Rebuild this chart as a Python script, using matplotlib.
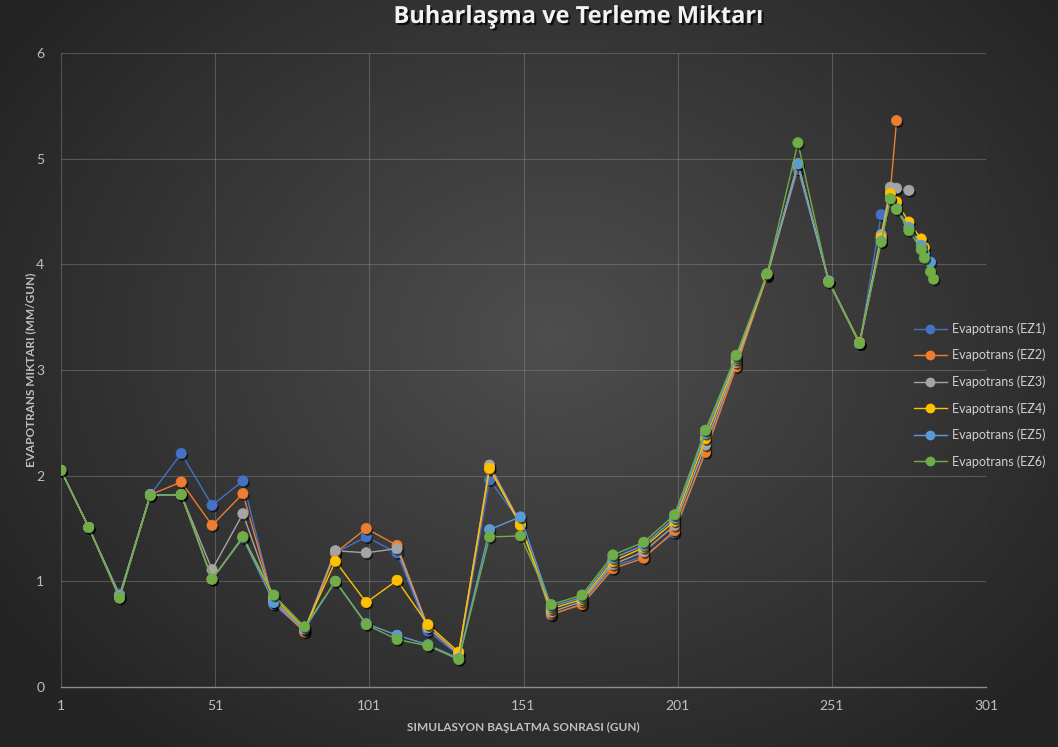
import numpy as np
import matplotlib
matplotlib.use("Agg")
import matplotlib.pyplot as plt
import matplotlib.patheffects as pe
from matplotlib.lines import Line2D

nan = np.nan

# Simulation day of each sample
days = [1, 10, 20, 30, 40, 50, 60, 70, 80, 90, 100, 110, 120, 130, 140, 150,
        160, 170, 180, 190, 200, 210, 220, 230, 240, 250, 260,
        267, 270, 272, 276, 280, 281, 283, 284]

# Evapotranspiration (mm/day) per zone
ez1 = [2.05, 1.51, 0.88, 1.82, 2.21, 1.72, 1.95, 0.78, 0.53, 1.27, 1.42, 1.27,
       0.53, 0.30, 1.96, 1.56, 0.68, 0.79, 1.14, 1.24, 1.46, 2.24, 3.05, 3.90,
       4.90, 3.84, 3.25, 4.47, nan, nan, nan, nan, nan, nan, nan]
ez2 = [2.05, 1.51, 0.86, 1.82, 1.94, 1.53, 1.83, 0.80, 0.52, 1.27, 1.50, 1.34,
       0.57, 0.31, 2.06, 1.55, 0.69, 0.78, 1.12, 1.22, 1.48, 2.22, 3.03, 3.89,
       4.93, 3.84, 3.25, 4.25, 4.70, 5.36, nan, nan, nan, nan, nan]
ez3 = [2.05, 1.51, 0.86, 1.82, 1.82, 1.11, 1.64, 0.82, 0.54, 1.29, 1.27, 1.31,
       0.56, 0.31, 2.10, 1.55, 0.71, 0.81, 1.16, 1.28, 1.53, 2.29, 3.07, 3.90,
       4.95, 3.84, 3.25, 4.28, 4.73, 4.72, 4.70, nan, nan, nan, nan]
ez4 = [2.05, 1.51, 0.85, 1.82, 1.82, 1.02, 1.42, 0.85, 0.55, 1.19, 0.80, 1.01,
       0.59, 0.33, 2.07, 1.53, 0.74, 0.83, 1.19, 1.32, 1.57, 2.35, 3.10, 3.90,
       4.95, 3.84, 3.26, 4.25, 4.67, 4.59, 4.40, 4.24, 4.16, nan, nan]
ez5 = [2.05, 1.51, 0.85, 1.82, 1.82, 1.02, 1.41, 0.80, 0.55, 1.00, 0.60, 0.49,
       0.40, 0.27, 1.49, 1.61, 0.76, 0.85, 1.22, 1.34, 1.60, 2.40, 3.12, 3.91,
       4.95, 3.84, 3.25, 4.22, 4.62, 4.53, 4.35, 4.18, 4.10, 4.02, nan]
ez6 = [2.05, 1.51, 0.84, 1.81, 1.82, 1.02, 1.42, 0.87, 0.57, 1.00, 0.59, 0.45,
       0.39, 0.26, 1.42, 1.43, 0.78, 0.87, 1.25, 1.37, 1.63, 2.43, 3.14, 3.91,
       5.15, 3.83, 3.25, 4.21, 4.62, 4.52, 4.32, 4.14, 4.06, 3.93, 3.86]

series_names = ["Evapotrans (EZ1)", "Evapotrans (EZ2)", "Evapotrans (EZ3)",
                "Evapotrans (EZ4)", "Evapotrans (EZ5)", "Evapotrans (EZ6)"]
series_values = [ez1, ez2, ez3, ez4, ez5, ez6]
colors = ["#4472C4", "#ED7D31", "#A5A5A5", "#FFC000", "#5B9BD5", "#70AD47"]

x_ticks = [1, 51, 101, 151, 201, 251, 301]
y_ticks = [0, 1, 2, 3, 4, 5, 6]

title = "Buharlaşma ve Terleme Miktarı"
x_title = "SIMULASYON BAŞLATMA SONRASI (GUN)"
y_title = "EVAPOTRANS MIKTARI (MM/GUN)"

W, H = 1058, 747
fig = plt.figure(figsize=(W / 100, H / 100), dpi=100)

# Dark radial gradient backdrop
bg = fig.add_axes([0, 0, 1, 1], zorder=-10)
gx, gy = np.meshgrid(np.linspace(0, 1, 400), np.linspace(0, 1, 300))
r = np.sqrt(((gx - 0.52) / 0.62) ** 2 + ((gy - 0.45) / 0.70) ** 2)
r = np.clip(r, 0, 1)
inner = np.array([78, 78, 78]) / 255
outer = np.array([36, 36, 36]) / 255
img = inner[None, None, :] * (1 - r[..., None]) + outer[None, None, :] * r[..., None]
bg.imshow(img, extent=[0, 1, 0, 1], aspect="auto", origin="upper")
bg.axis("off")

left, right = 61 / W, 986 / W
bottom, top = 1 - 687 / H, 1 - 53 / H
ax = fig.add_axes([left, bottom, right - left, top - bottom])
ax.patch.set_alpha(0)

font_main = ["Lato", "DejaVu Sans"]
tick_color = "#BFBFBF"

for name, vals, c in zip(series_names, series_values, colors):
    ax.plot(days, vals, color=c, lw=1.0, zorder=3, solid_joinstyle="round")
    ax.plot(days, vals, linestyle="none", marker="o", markersize=7.4,
            markerfacecolor=c, markeredgecolor=c, markeredgewidth=0.5, zorder=3,
            path_effects=[pe.SimplePatchShadow(offset=(1.2, -1.5), shadow_rgbFace="black",
                                               alpha=0.6),
                          pe.Normal()])

ax.set_xlim(1, 301)
ax.set_ylim(0, 6)
ax.set_xticks(x_ticks)
ax.set_yticks(y_ticks)
ax.grid(True, color="#8A8A8A", lw=0.8, alpha=0.45, zorder=0)
ax.set_axisbelow(True)
for s in ["top", "right", "left"]:
    ax.spines[s].set_visible(False)
ax.spines["bottom"].set_color("#8C8C8C")
ax.spines["bottom"].set_linewidth(1.0)
ax.tick_params(length=0, colors=tick_color, labelsize=10, pad=9)
for lab in ax.get_xticklabels() + ax.get_yticklabels():
    lab.set_family(font_main)
ax.tick_params(axis="y", pad=12)

fig.text(0.547, 1 - 17 / H, title, ha="center", va="center", fontsize=17,
         fontweight="bold", color="#F2F2F2", family=["Open Sans", "DejaVu Sans"],
         path_effects=[pe.withSimplePatchShadow(offset=(1.5, -1.5),
                                                shadow_rgbFace="black", alpha=0.7)])
fig.text(523 / W, 1 - 727 / H, x_title, ha="center", va="center", fontsize=8.5,
         fontweight="bold", color=tick_color, family=font_main)
fig.text(31 / W, 1 - 370 / H, y_title, ha="center", va="center", fontsize=8.5,
         fontweight="bold", color=tick_color, family=font_main, rotation=90)

handles = [Line2D([0], [0], color=c, lw=1.0, marker="o", markersize=6,
                  markerfacecolor=c, markeredgecolor=c) for c in colors]
leg = fig.legend(handles, series_names, loc="center left",
                 bbox_to_anchor=(914 / W, 1 - 395 / H), frameon=False,
                 labelcolor="#D0D0D0", handlelength=2.6,
                 handletextpad=0.4, labelspacing=1.12, borderpad=0,
                 borderaxespad=0, prop={"family": font_main, "size": 9})

fig.savefig("out.png", dpi=100)
